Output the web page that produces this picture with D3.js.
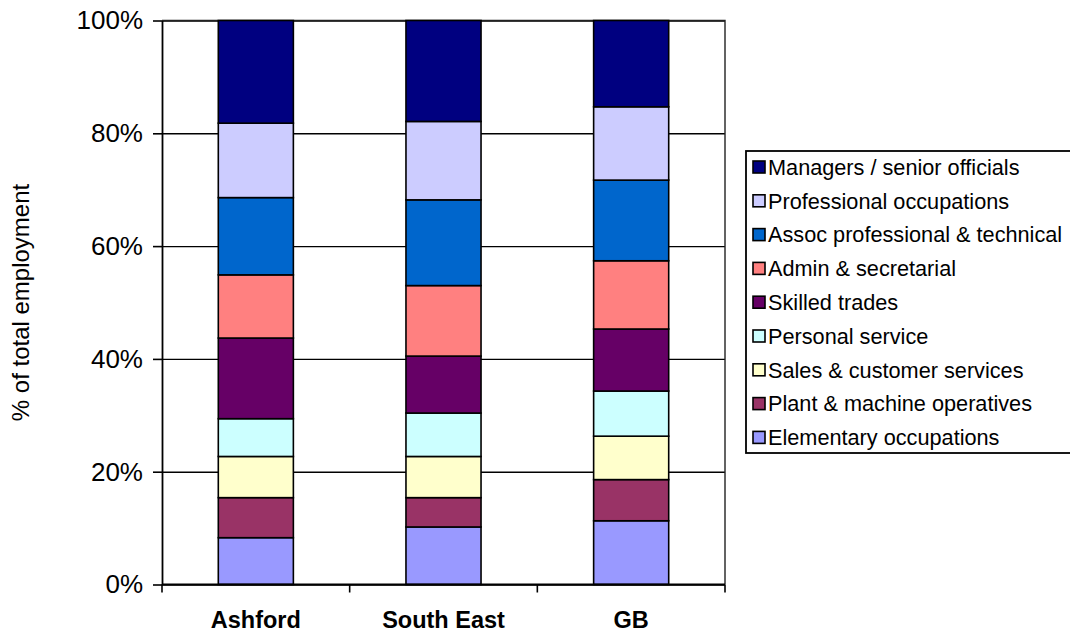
<!DOCTYPE html>
<html>
<head>
<meta charset="utf-8">
<script src="https://cdn.jsdelivr.net/npm/d3@7/dist/d3.min.js"></script>
<style>
  html, body { margin: 0; padding: 0; background: #ffffff; }
  svg { display: block; }
  text { font-family: "Liberation Sans", Arial, sans-serif; fill: #000; }
</style>
</head>
<body>
<svg id="chart" width="1070" height="634"></svg>
<script>
// Areas shown along the x axis
const categories = ["Ashford", "South East", "GB"];

// Occupation groups, bottom of the stack first
const occupations = [
  "Elementary occupations",
  "Plant & machine operatives",
  "Sales & customer services",
  "Personal service",
  "Skilled trades",
  "Admin & secretarial",
  "Assoc professional & technical",
  "Professional occupations",
  "Managers / senior officials"
];

const colors = [
  "#9999FF", "#993366", "#FFFFCC", "#CCFFFF", "#660066",
  "#FF8080", "#0066CC", "#CCCCFF", "#000080"
];

// Share of total employment (%), same order as occupations
const ashford   = [8.3, 7.1, 7.3, 6.7, 14.3, 11.2, 13.7, 13.2, 18.2];
const southEast = [10.2, 5.2, 7.3, 7.7, 10.1, 12.5, 15.2, 13.9, 17.9];
const gb        = [11.3, 7.3, 7.7, 8.0, 11.0, 12.1, 14.3, 13.0, 15.3];

const yTicks = [0, 0.2, 0.4, 0.6, 0.8, 1];

const seriesByArea = [ashford, southEast, gb];
const table = categories.map((c, i) => {
  const row = { area: c };
  occupations.forEach((o, j) => { row[o] = seriesByArea[i][j]; });
  return row;
});

const svg = d3.select("#chart");
const plot = { left: 162, right: 725, top: 20.5, bottom: 584.5 };

const x = d3.scaleBand()
  .domain(categories)
  .range([plot.left, plot.right])
  .paddingInner(0.6)
  .paddingOuter(0.3);

const y = d3.scaleLinear()
  .domain([0, 1])
  .range([plot.bottom, plot.top]);

const color = d3.scaleOrdinal().domain(occupations).range(colors);

const stacked = d3.stack()
  .keys(occupations)
  .offset(d3.stackOffsetExpand)(table);

// Horizontal gridlines
svg.append("g")
  .attr("transform", `translate(${plot.left},0)`)
  .call(d3.axisLeft(y).tickValues(yTicks).tickSize(-(plot.right - plot.left)).tickFormat(""))
  .call(g => g.select(".domain").remove())
  .call(g => g.selectAll("line").attr("stroke", "#000").attr("stroke-width", 1.4));

// Plot frame (top and right edges)
svg.append("path")
  .attr("d", `M${plot.left},${plot.top}H${plot.right}V${plot.bottom}`)
  .attr("fill", "none")
  .attr("stroke", "#222")
  .attr("stroke-width", 1.4);

// Stacked bars
svg.append("g")
  .selectAll("g")
  .data(stacked)
  .join("g")
  .attr("fill", d => color(d.key))
  .selectAll("rect")
  .data(d => d)
  .join("rect")
  .attr("x", d => x(d.data.area))
  .attr("width", x.bandwidth())
  .attr("y", d => y(d[1]))
  .attr("height", d => y(d[0]) - y(d[1]))
  .attr("stroke", "#000")
  .attr("stroke-width", 1.6);

// Y axis
svg.append("g")
  .attr("transform", `translate(${plot.left},0)`)
  .call(d3.axisLeft(y).tickValues(yTicks).tickSize(9).tickSizeOuter(0).tickPadding(10)
    .tickFormat(d3.format(".0%")))
  .call(g => g.select(".domain").attr("stroke", "#000").attr("stroke-width", 1.8))
  .call(g => g.selectAll(".tick line").attr("stroke", "#000").attr("stroke-width", 1.6))
  .call(g => g.selectAll(".tick text")
    .attr("font-size", 26)
    .attr("font-family", "Liberation Sans, Arial, sans-serif")
    .attr("fill", "#000"));

// X axis with ticks between categories
const boundaries = d3.range(categories.length + 1).map(i => plot.left + i * x.step());
const xAxis = svg.append("g");
xAxis.append("line")
  .attr("x1", plot.left).attr("x2", plot.right)
  .attr("y1", plot.bottom).attr("y2", plot.bottom)
  .attr("stroke", "#000").attr("stroke-width", 1.8);
xAxis.selectAll("line.tick")
  .data(boundaries)
  .join("line")
  .attr("class", "tick")
  .attr("x1", d => d).attr("x2", d => d)
  .attr("y1", plot.bottom).attr("y2", plot.bottom + 8)
  .attr("stroke", "#000").attr("stroke-width", 1.6);
xAxis.selectAll("text")
  .data(categories)
  .join("text")
  .attr("x", d => x(d) + x.bandwidth() / 2)
  .attr("y", 628)
  .attr("text-anchor", "middle")
  .attr("font-weight", "bold")
  .attr("font-size", 23.5)
  .text(d => d);

// Y axis title
svg.append("text")
  .attr("transform", `translate(29,${(plot.top + plot.bottom) / 2}) rotate(-90)`)
  .attr("text-anchor", "middle")
  .attr("font-size", 24)
  .text("% of total employment");

// Legend, top entry is the top of the stack
const legend = svg.append("g");
legend.append("rect")
  .attr("x", 746).attr("y", 151)
  .attr("width", 340).attr("height", 302)
  .attr("fill", "#fff")
  .attr("stroke", "#000")
  .attr("stroke-width", 1.8);

const legendItems = occupations.slice().reverse();
const item = legend.selectAll("g.item")
  .data(legendItems)
  .join("g")
  .attr("class", "item")
  .attr("transform", (d, i) => `translate(0,${167 + i * 33.8})`);

item.append("rect")
  .attr("x", 753).attr("y", -6)
  .attr("width", 12).attr("height", 12)
  .attr("fill", d => color(d))
  .attr("stroke", "#000")
  .attr("stroke-width", 1.6);

item.append("text")
  .attr("x", 768)
  .attr("y", 0)
  .attr("dy", "0.36em")
  .attr("font-size", 21.7)
  .text(d => d);
</script>
</body>
</html>
